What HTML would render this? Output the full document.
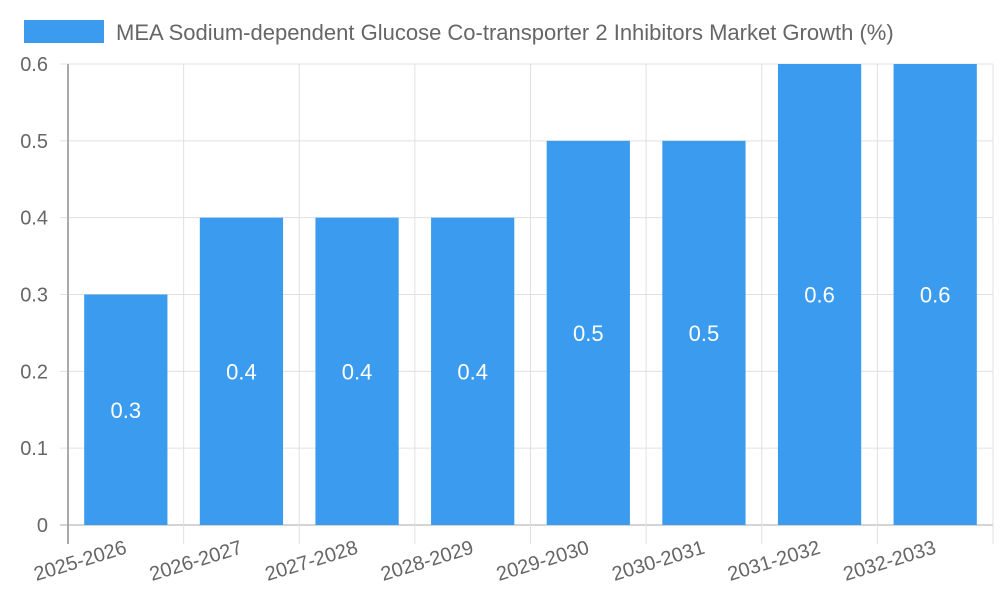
<!DOCTYPE html>
<html><head><meta charset="utf-8"><style>
body{margin:0;background:#fff;}
svg{display:block;font-family:"Liberation Sans",sans-serif;}
</style></head><body>
<svg id="chart" width="1000" height="600">
<g>
<rect x="24" y="20" width="80" height="23" fill="#3a9bef"></rect>
<text x="116" y="40" font-size="22" fill="#666">MEA Sodium-dependent Glucose Co-transporter 2 Inhibitors Market Growth (%)</text>
</g>
<g id="grid"></g><g id="bars"></g><g id="axes"></g>
</svg>
<script>
const categories=["2025-2026","2026-2027","2027-2028","2028-2029","2029-2030","2030-2031","2031-2032","2032-2033"];
const values=[0.3,0.4,0.4,0.4,0.5,0.5,0.6,0.6];
const yTicks=[0,0.1,0.2,0.3,0.4,0.5,0.6];
const NS="http://www.w3.org/2000/svg";
const L=68,R=993,T=64,B=525,yMax=0.6;
const bw=(R-L)/categories.length;
const y=v=>B-(v/yMax)*(B-T);
const xc=i=>L+bw*(i+0.5);
function mk(tag,attrs,parent){const e=document.createElementNS(NS,tag);for(const k in attrs)e.setAttribute(k,attrs[k]);parent.appendChild(e);return e;}
const grid=document.getElementById('grid'),bars=document.getElementById('bars'),axes=document.getElementById('axes');
yTicks.forEach(t=>{
 const l=mk('line',{x1:L-8,x2:R,y1:y(t),y2:y(t),stroke:t===0?'#aaa':'#e0e0e0','stroke-width':1},grid);
 
 
 const tx=mk('text',{x:L-20,y:y(t)+7,'text-anchor':'end','font-size':20,fill:'#666'},axes);
 tx.textContent=String(t);
 
 
});
for(let i=0;i<=categories.length;i++){
 const x=L+bw*i;
 const l=mk('line',{x1:x,x2:x,y1:T,y2:B+19,stroke:i===0?'#aaa':'#e0e0e0','stroke-width':i===0?2:1},grid);
 
 
}
categories.forEach((c,i)=>{
 const w=bw*0.72,x=xc(i)-w/2;
 const r=mk('rect',{x:x,y:y(values[i]),width:w,height:B-y(values[i]),fill:'#3a9bef'},bars);
 
 
 const v=mk('text',{x:xc(i),y:(y(values[i])+B)/2+8,'text-anchor':'middle','font-size':22,fill:'#fff'},bars);
 v.textContent=String(values[i]);
 
 
 const tx=mk('text',{x:0,y:0,'text-anchor':'end','font-size':20,fill:'#666',transform:`translate(${xc(i)+2},553) rotate(-17)`},axes);
 tx.textContent=c;
 
 
});
</script>
</body></html>
